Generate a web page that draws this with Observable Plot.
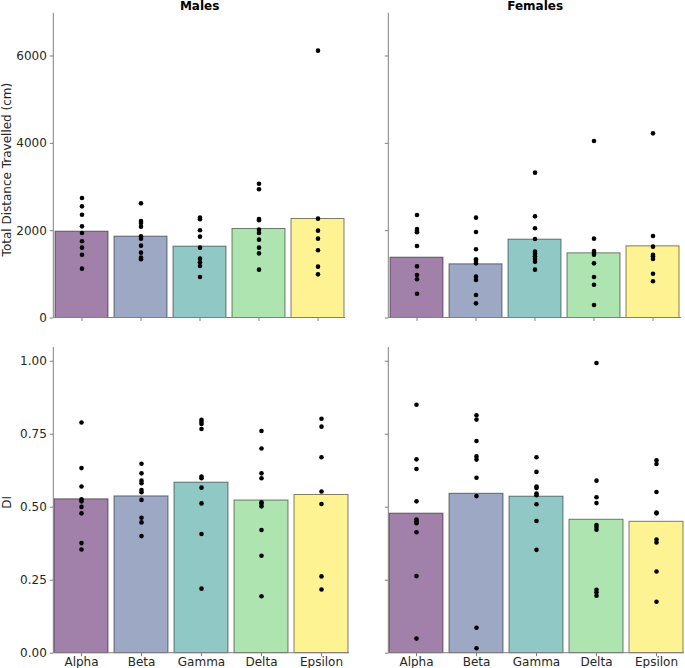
<!DOCTYPE html>
<html>
<head>
<meta charset="utf-8">
<script src="https://cdn.jsdelivr.net/npm/d3@7"></script>
<script src="https://cdn.jsdelivr.net/npm/@observablehq/plot@0.6"></script>
<style>
  html, body { margin: 0; padding: 0; background: #fff; }
  #chart { position: relative; width: 685px; height: 668px; background: #fff; overflow: hidden; }
  #chart > div, #chart > svg { position: absolute; }
</style>
</head>
<body>
<div id="chart"></div>
<script>
const groups = ["Alpha", "Beta", "Gamma", "Delta", "Epsilon"];
const groupColors = ["#a180a9", "#9da8c5", "#90c8c5", "#aee4b0", "#fef392"];

// Total distance travelled (cm)
const maleDistMeans = [1977, 1863, 1634, 2038, 2267];
const femaleDistMeans = [1382, 1229, 1794, 1481, 1641];
const maleDistPoints = [
  [2748, 2557, 2366, 2099, 1947, 1756, 1611, 1450, 1130],
  [2626, 2221, 2176, 2092, 1870, 1817, 1657, 1496, 1382, 1344],
  [2298, 2260, 2008, 1863, 1611, 1359, 1275, 1191, 939],
  [3076, 2947, 2267, 2237, 2023, 1947, 1794, 1611, 1481, 1107],
  [6122, 2275, 2000, 1817, 1550, 1176, 1000]
];
const femaleDistPoints = [
  [2359, 2038, 2000, 1962, 1649, 1183, 985, 886, 557],
  [2298, 1970, 1573, 1344, 1305, 1252, 947, 870, 527, 336],
  [3328, 2328, 2054, 1809, 1519, 1473, 1412, 1351, 1290, 1107],
  [4054, 1817, 1534, 1496, 1450, 1252, 939, 763, 298],
  [4229, 1878, 1634, 1450, 1412, 1351, 1015, 840]
];

// DI
const maleDIMeans = [0.527, 0.537, 0.584, 0.523, 0.542];
const femaleDIMeans = [0.478, 0.546, 0.536, 0.457, 0.450];
const maleDIPoints = [
  [0.790, 0.634, 0.571, 0.527, 0.520, 0.501, 0.479, 0.377, 0.355],
  [0.649, 0.616, 0.591, 0.582, 0.559, 0.551, 0.525, 0.464, 0.448, 0.401],
  [0.799, 0.792, 0.785, 0.768, 0.605, 0.599, 0.567, 0.513, 0.408, 0.221],
  [0.761, 0.701, 0.616, 0.599, 0.517, 0.512, 0.503, 0.422, 0.334, 0.195],
  [0.803, 0.776, 0.671, 0.554, 0.511, 0.263, 0.218]
];
const femaleDIPoints = [
  [0.851, 0.664, 0.631, 0.520, 0.458, 0.451, 0.445, 0.414, 0.264, 0.050],
  [0.815, 0.800, 0.727, 0.674, 0.663, 0.601, 0.538, 0.087, 0.017],
  [0.671, 0.621, 0.571, 0.566, 0.547, 0.541, 0.510, 0.453, 0.354],
  [0.994, 0.591, 0.534, 0.514, 0.439, 0.432, 0.423, 0.217, 0.209, 0.197],
  [0.661, 0.648, 0.552, 0.482, 0.479, 0.389, 0.379, 0.280, 0.176]
];

const distTicks = [0, 2000, 4000, 6000];
const diTicks = [0, 0.25, 0.5, 0.75, 1.0];
const columnTitles = ["Males", "Females"];
const rowLabels = ["Total Distance Travelled (cm)", "DI"];

const axisGray = "#808080";
const textColor = "#262626";

function spines() {
  return (index, scales, values, dims) => {
    const g = d3.create("svg:g").attr("stroke", axisGray).attr("stroke-width", 1);
    const l = dims.marginLeft, r = dims.width - dims.marginRight;
    const t = dims.marginTop, b = dims.height - dims.marginBottom;
    g.append("line").attr("x1", l).attr("x2", l).attr("y1", t).attr("y2", b);
    g.append("line").attr("x1", l).attr("x2", r).attr("y1", b).attr("y2", b);
    return g.node();
  };
}

function panel(cfg) {
  const bars = groups.map((g, i) => ({group: g, value: cfg.means[i]}));
  const pts = groups.flatMap((g, i) => cfg.points[i].map(v => ({group: g, value: v})));
  const marks = [
    Plot.barY(bars, {x: "group", y: "value", fill: "group", stroke: "#000", strokeOpacity: 0.5, strokeWidth: 1}),
    Plot.dot(pts, {x: "group", y: "value", r: 2.3, fill: "#000", stroke: "none"}),
    spines(),
    Plot.axisY({ticks: cfg.yTicks, tickSize: 3.5, tickPadding: 3.5, stroke: axisGray, fill: textColor,
      tickFormat: cfg.yLabels ? cfg.yFormat : () => "", label: null}),
    Plot.axisX({tickSize: 3.5, tickPadding: 1, stroke: axisGray, fill: textColor,
      tickFormat: cfg.xLabels ? (d => d) : () => "", label: null})
  ];
  if (cfg.title) {
    marks.push(Plot.text([cfg.title], {text: d => d, frameAnchor: "top", textAnchor: "middle", lineAnchor: "bottom",
      dy: -3.5, fontWeight: "bold", fontSize: 12, fill: "#000"}));
  }
  if (cfg.ylabel) {
    marks.push(Plot.text([cfg.ylabel], {text: d => d, frameAnchor: "left", textAnchor: "middle", lineAnchor: "middle",
      rotate: -90, dx: cfg.ylabelDx, dy: cfg.ylabelDy, fontSize: 12, fill: textColor}));
  }
  const svg = Plot.plot({
    width: cfg.width,
    height: cfg.height,
    marginLeft: cfg.ml, marginRight: cfg.mr, marginTop: cfg.mt, marginBottom: cfg.mb,
    style: {fontFamily: "'DejaVu Sans', Verdana, sans-serif", fontSize: "12px", background: "transparent", overflow: "visible"},
    x: {type: "band", domain: groups, paddingInner: 0.1, paddingOuter: 0, label: null, axis: null},
    y: {domain: cfg.yDomain, label: null, axis: null},
    color: {domain: groups, range: groupColors},
    marks
  });
  svg.style.left = cfg.left + "px";
  svg.style.top = cfg.top + "px";
  svg.style.position = "absolute";
  document.getElementById("chart").appendChild(svg);
}

// Top-left: Males, distance
panel({means: maleDistMeans, points: maleDistPoints, yDomain: [0, 6980], yTicks: distTicks, yFormat: d3.format("d"),
  yLabels: true, xLabels: false, title: columnTitles[0], ylabel: rowLabels[0], ylabelDx: -46.3, ylabelDy: 4,
  left: 0, top: 0, width: 350, height: 335, ml: 53.3, mr: 5, mt: 12.7, mb: 17.5});
// Top-right: Females, distance
panel({means: femaleDistMeans, points: femaleDistPoints, yDomain: [0, 6980], yTicks: distTicks, yFormat: d3.format("d"),
  yLabels: false, xLabels: false, title: columnTitles[1],
  left: 350, top: 0, width: 335, height: 335, ml: 38.3, mr: 4, mt: 12.7, mb: 17.5});
// Bottom-left: Males, DI
panel({means: maleDIMeans, points: maleDIPoints, yDomain: [0, 1.047], yTicks: diTicks, yFormat: d3.format(".2f"),
  yLabels: true, xLabels: true, ylabel: rowLabels[1], ylabelDx: -46.3, ylabelDy: 2,
  left: 0, top: 335, width: 352, height: 333, ml: 53.3, mr: 3, mt: 12, mb: 15.3});
// Bottom-right: Females, DI
panel({means: femaleDIMeans, points: femaleDIPoints, yDomain: [0, 1.047], yTicks: diTicks, yFormat: d3.format(".2f"),
  yLabels: false, xLabels: true,
  left: 352, top: 335, width: 333, height: 333, ml: 36.3, mr: 1, mt: 12, mb: 15.3});
</script>
</body>
</html>
